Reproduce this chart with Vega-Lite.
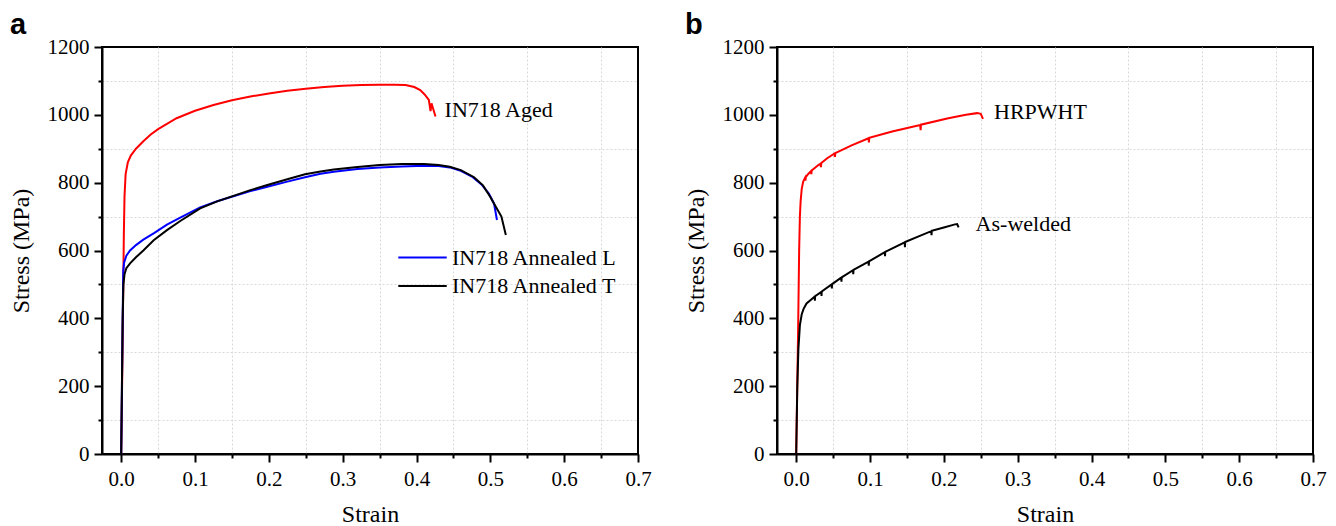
{
  "$schema": "https://vega.github.io/schema/vega-lite/v6.json",
  "padding": {"left": 8, "top": 10, "right": 5, "bottom": 0},
  "background": "white",
  "config": {
    "view": {"stroke": "black", "strokeWidth": 2},
    "axis": {"labelFont": "Liberation Serif", "titleFont": "Liberation Serif"},
    "axisX": {"labelFont": "Liberation Serif", "titleFont": "Liberation Serif"},
    "axisY": {"labelFont": "Liberation Serif", "titleFont": "Liberation Serif"},
    "title": {"font": "Liberation Sans", "fontSize": 29, "fontWeight": "bold", "color": "black", "anchor": "start", "baseline": "alphabetic", "frame": "group"}
  },
  "datasets": {
    "panelA": [
      {"series": "IN718 Aged", "strain": 0, "stress": 0},
      {"series": "IN718 Aged", "strain": 0.0015, "stress": 250},
      {"series": "IN718 Aged", "strain": 0.0028, "stress": 500},
      {"series": "IN718 Aged", "strain": 0.0036, "stress": 650},
      {"series": "IN718 Aged", "strain": 0.0045, "stress": 760},
      {"series": "IN718 Aged", "strain": 0.006, "stress": 825},
      {"series": "IN718 Aged", "strain": 0.009, "stress": 860},
      {"series": "IN718 Aged", "strain": 0.013, "stress": 880},
      {"series": "IN718 Aged", "strain": 0.02, "stress": 900},
      {"series": "IN718 Aged", "strain": 0.03, "stress": 922},
      {"series": "IN718 Aged", "strain": 0.04, "stress": 942},
      {"series": "IN718 Aged", "strain": 0.05, "stress": 958},
      {"series": "IN718 Aged", "strain": 0.075, "stress": 990},
      {"series": "IN718 Aged", "strain": 0.1, "stress": 1012},
      {"series": "IN718 Aged", "strain": 0.125, "stress": 1029},
      {"series": "IN718 Aged", "strain": 0.15, "stress": 1043},
      {"series": "IN718 Aged", "strain": 0.175, "stress": 1054},
      {"series": "IN718 Aged", "strain": 0.2, "stress": 1063},
      {"series": "IN718 Aged", "strain": 0.225, "stress": 1071},
      {"series": "IN718 Aged", "strain": 0.25, "stress": 1077},
      {"series": "IN718 Aged", "strain": 0.275, "stress": 1082},
      {"series": "IN718 Aged", "strain": 0.3, "stress": 1086},
      {"series": "IN718 Aged", "strain": 0.325, "stress": 1088},
      {"series": "IN718 Aged", "strain": 0.35, "stress": 1089},
      {"series": "IN718 Aged", "strain": 0.37, "stress": 1089},
      {"series": "IN718 Aged", "strain": 0.385, "stress": 1088},
      {"series": "IN718 Aged", "strain": 0.397, "stress": 1082},
      {"series": "IN718 Aged", "strain": 0.405, "stress": 1073},
      {"series": "IN718 Aged", "strain": 0.411, "stress": 1060},
      {"series": "IN718 Aged", "strain": 0.4167, "stress": 1044},
      {"series": "IN718 Aged", "strain": 0.419, "stress": 1011},
      {"series": "IN718 Aged", "strain": 0.4203, "stress": 1034},
      {"series": "IN718 Aged", "strain": 0.4257, "stress": 995},
      {"series": "IN718 Annealed L", "strain": 0, "stress": 0},
      {"series": "IN718 Annealed L", "strain": 0.001, "stress": 200},
      {"series": "IN718 Annealed L", "strain": 0.002, "stress": 400},
      {"series": "IN718 Annealed L", "strain": 0.0028, "stress": 540},
      {"series": "IN718 Annealed L", "strain": 0.004, "stress": 565},
      {"series": "IN718 Annealed L", "strain": 0.007, "stress": 585},
      {"series": "IN718 Annealed L", "strain": 0.012, "stress": 600},
      {"series": "IN718 Annealed L", "strain": 0.02, "stress": 616},
      {"series": "IN718 Annealed L", "strain": 0.03, "stress": 632},
      {"series": "IN718 Annealed L", "strain": 0.045, "stress": 652},
      {"series": "IN718 Annealed L", "strain": 0.062, "stress": 676},
      {"series": "IN718 Annealed L", "strain": 0.08, "stress": 697},
      {"series": "IN718 Annealed L", "strain": 0.107, "stress": 727},
      {"series": "IN718 Annealed L", "strain": 0.13, "stress": 745},
      {"series": "IN718 Annealed L", "strain": 0.152, "stress": 760},
      {"series": "IN718 Annealed L", "strain": 0.175, "stress": 775},
      {"series": "IN718 Annealed L", "strain": 0.198, "stress": 788},
      {"series": "IN718 Annealed L", "strain": 0.225, "stress": 803},
      {"series": "IN718 Annealed L", "strain": 0.249, "stress": 816},
      {"series": "IN718 Annealed L", "strain": 0.27, "stress": 826},
      {"series": "IN718 Annealed L", "strain": 0.288, "stress": 832},
      {"series": "IN718 Annealed L", "strain": 0.32, "stress": 840},
      {"series": "IN718 Annealed L", "strain": 0.35, "stress": 845},
      {"series": "IN718 Annealed L", "strain": 0.38, "stress": 848},
      {"series": "IN718 Annealed L", "strain": 0.41, "stress": 850},
      {"series": "IN718 Annealed L", "strain": 0.43, "stress": 849},
      {"series": "IN718 Annealed L", "strain": 0.445, "stress": 845},
      {"series": "IN718 Annealed L", "strain": 0.46, "stress": 835},
      {"series": "IN718 Annealed L", "strain": 0.475, "stress": 818},
      {"series": "IN718 Annealed L", "strain": 0.488, "stress": 795},
      {"series": "IN718 Annealed L", "strain": 0.498, "stress": 768},
      {"series": "IN718 Annealed L", "strain": 0.505, "stress": 738},
      {"series": "IN718 Annealed L", "strain": 0.509, "stress": 690},
      {"series": "IN718 Annealed T", "strain": 0, "stress": 0},
      {"series": "IN718 Annealed T", "strain": 0.001, "stress": 200},
      {"series": "IN718 Annealed T", "strain": 0.002, "stress": 400},
      {"series": "IN718 Annealed T", "strain": 0.003, "stress": 500},
      {"series": "IN718 Annealed T", "strain": 0.0045, "stress": 530},
      {"series": "IN718 Annealed T", "strain": 0.007, "stress": 548},
      {"series": "IN718 Annealed T", "strain": 0.012, "stress": 562},
      {"series": "IN718 Annealed T", "strain": 0.02, "stress": 580},
      {"series": "IN718 Annealed T", "strain": 0.03, "stress": 600},
      {"series": "IN718 Annealed T", "strain": 0.044, "stress": 630},
      {"series": "IN718 Annealed T", "strain": 0.062, "stress": 660},
      {"series": "IN718 Annealed T", "strain": 0.08, "stress": 687},
      {"series": "IN718 Annealed T", "strain": 0.107, "stress": 724},
      {"series": "IN718 Annealed T", "strain": 0.13, "stress": 745},
      {"series": "IN718 Annealed T", "strain": 0.152, "stress": 761},
      {"series": "IN718 Annealed T", "strain": 0.175, "stress": 778},
      {"series": "IN718 Annealed T", "strain": 0.198, "stress": 793},
      {"series": "IN718 Annealed T", "strain": 0.225, "stress": 810},
      {"series": "IN718 Annealed T", "strain": 0.249, "stress": 825},
      {"series": "IN718 Annealed T", "strain": 0.27, "stress": 833},
      {"series": "IN718 Annealed T", "strain": 0.288, "stress": 839},
      {"series": "IN718 Annealed T", "strain": 0.32, "stress": 846},
      {"series": "IN718 Annealed T", "strain": 0.35, "stress": 852},
      {"series": "IN718 Annealed T", "strain": 0.38, "stress": 855},
      {"series": "IN718 Annealed T", "strain": 0.41, "stress": 855},
      {"series": "IN718 Annealed T", "strain": 0.43, "stress": 852},
      {"series": "IN718 Annealed T", "strain": 0.445, "stress": 847},
      {"series": "IN718 Annealed T", "strain": 0.46, "stress": 837},
      {"series": "IN718 Annealed T", "strain": 0.478, "stress": 816},
      {"series": "IN718 Annealed T", "strain": 0.49, "stress": 792},
      {"series": "IN718 Annealed T", "strain": 0.5, "stress": 758},
      {"series": "IN718 Annealed T", "strain": 0.508, "stress": 727},
      {"series": "IN718 Annealed T", "strain": 0.515, "stress": 700},
      {"series": "IN718 Annealed T", "strain": 0.521, "stress": 646}
    ],
    "panelB": [
      {"series": "HRPWHT", "strain": 0, "stress": 0},
      {"series": "HRPWHT", "strain": 0.0025, "stress": 350},
      {"series": "HRPWHT", "strain": 0.004, "stress": 600},
      {"series": "HRPWHT", "strain": 0.005, "stress": 700},
      {"series": "HRPWHT", "strain": 0.006, "stress": 745},
      {"series": "HRPWHT", "strain": 0.0075, "stress": 782},
      {"series": "HRPWHT", "strain": 0.0095, "stress": 803},
      {"series": "HRPWHT", "strain": 0.012, "stress": 814},
      {"series": "HRPWHT", "strain": 0.0125, "stress": 806},
      {"series": "HRPWHT", "strain": 0.013, "stress": 816},
      {"series": "HRPWHT", "strain": 0.016, "stress": 825},
      {"series": "HRPWHT", "strain": 0.02, "stress": 834},
      {"series": "HRPWHT", "strain": 0.0205, "stress": 825},
      {"series": "HRPWHT", "strain": 0.021, "stress": 836},
      {"series": "HRPWHT", "strain": 0.03, "stress": 852},
      {"series": "HRPWHT", "strain": 0.033, "stress": 856},
      {"series": "HRPWHT", "strain": 0.0335, "stress": 846},
      {"series": "HRPWHT", "strain": 0.034, "stress": 858},
      {"series": "HRPWHT", "strain": 0.042, "stress": 872},
      {"series": "HRPWHT", "strain": 0.052, "stress": 886},
      {"series": "HRPWHT", "strain": 0.0525, "stress": 876},
      {"series": "HRPWHT", "strain": 0.053, "stress": 887},
      {"series": "HRPWHT", "strain": 0.075, "stress": 910},
      {"series": "HRPWHT", "strain": 0.098, "stress": 931},
      {"series": "HRPWHT", "strain": 0.0985, "stress": 919},
      {"series": "HRPWHT", "strain": 0.099, "stress": 932},
      {"series": "HRPWHT", "strain": 0.13, "stress": 951},
      {"series": "HRPWHT", "strain": 0.168, "stress": 970},
      {"series": "HRPWHT", "strain": 0.1685, "stress": 955},
      {"series": "HRPWHT", "strain": 0.169, "stress": 971},
      {"series": "HRPWHT", "strain": 0.206, "stress": 990},
      {"series": "HRPWHT", "strain": 0.23, "stress": 1000},
      {"series": "HRPWHT", "strain": 0.245, "stress": 1005},
      {"series": "HRPWHT", "strain": 0.25, "stress": 1003},
      {"series": "HRPWHT", "strain": 0.253, "stress": 988},
      {"series": "As-welded", "strain": 0, "stress": 0},
      {"series": "As-welded", "strain": 0.0015, "stress": 200},
      {"series": "As-welded", "strain": 0.003, "stress": 310},
      {"series": "As-welded", "strain": 0.005, "stress": 380},
      {"series": "As-welded", "strain": 0.0075, "stress": 412},
      {"series": "As-welded", "strain": 0.01, "stress": 428},
      {"series": "As-welded", "strain": 0.014, "stress": 444},
      {"series": "As-welded", "strain": 0.02, "stress": 455},
      {"series": "As-welded", "strain": 0.025, "stress": 464},
      {"series": "As-welded", "strain": 0.0253, "stress": 452},
      {"series": "As-welded", "strain": 0.0256, "stress": 465},
      {"series": "As-welded", "strain": 0.034, "stress": 478},
      {"series": "As-welded", "strain": 0.0343, "stress": 466},
      {"series": "As-welded", "strain": 0.0346, "stress": 479},
      {"series": "As-welded", "strain": 0.048, "stress": 500},
      {"series": "As-welded", "strain": 0.0483, "stress": 488},
      {"series": "As-welded", "strain": 0.0486, "stress": 501},
      {"series": "As-welded", "strain": 0.061, "stress": 520},
      {"series": "As-welded", "strain": 0.0613, "stress": 508},
      {"series": "As-welded", "strain": 0.0616, "stress": 521},
      {"series": "As-welded", "strain": 0.077, "stress": 542},
      {"series": "As-welded", "strain": 0.0773, "stress": 530},
      {"series": "As-welded", "strain": 0.0776, "stress": 543},
      {"series": "As-welded", "strain": 0.098, "stress": 567},
      {"series": "As-welded", "strain": 0.0983, "stress": 555},
      {"series": "As-welded", "strain": 0.0986, "stress": 568},
      {"series": "As-welded", "strain": 0.12, "stress": 595},
      {"series": "As-welded", "strain": 0.1203, "stress": 583},
      {"series": "As-welded", "strain": 0.1206, "stress": 596},
      {"series": "As-welded", "strain": 0.147, "stress": 624},
      {"series": "As-welded", "strain": 0.1473, "stress": 610},
      {"series": "As-welded", "strain": 0.1476, "stress": 625},
      {"series": "As-welded", "strain": 0.165, "stress": 641},
      {"series": "As-welded", "strain": 0.183, "stress": 657},
      {"series": "As-welded", "strain": 0.1833, "stress": 645},
      {"series": "As-welded", "strain": 0.1836, "stress": 658},
      {"series": "As-welded", "strain": 0.2, "stress": 668},
      {"series": "As-welded", "strain": 0.215, "stress": 677},
      {"series": "As-welded", "strain": 0.218, "stress": 678},
      {"series": "As-welded", "strain": 0.22, "stress": 668}
    ]
  },
  "spacing": 30,
  "resolve": {"scale": {"color": "independent"}, "legend": {"color": "independent"}},
  "hconcat": [
    {
      "width": 536,
      "height": 407,
      "title": {"text": "a", "dx": -92, "offset": -4},
      "encoding": {
        "x": {"field": "strain", "type": "quantitative", "title": "Strain",
          "scale": {"domain": [-0.026, 0.7], "nice": false, "zero": false},
          "axis": {
            "values": [0, 0.05, 0.1, 0.15, 0.2, 0.25, 0.3, 0.35, 0.4, 0.45, 0.5, 0.55, 0.6, 0.65, 0.7],
            "labelExpr": "round(datum.value*100) % 10 == 5 ? '' : format(datum.value, '.1f')",
            "domainColor": "black", "domainWidth": 2, "tickColor": "black", "tickWidth": 2,
            "tickSize": {"condition": {"test": "round(datum.value*100) % 10 == 5", "value": 4}, "value": 8},
            "grid": true, "gridColor": "#d9d9d9", "gridDash": [2, 2], "gridWidth": 1,
            "gridOpacity": {"condition": {"test": "round(datum.value*100) % 10 == 5", "value": 1}, "value": 0},
            "labelFont": "Liberation Serif", "labelFontSize": 21, "labelColor": "black",
            "labelOverlap": false, "labelFlush": false, "labelBound": false,
            "titleFont": "Liberation Serif", "titleFontSize": 24, "titleFontWeight": "normal", "titleColor": "black",
            "labelPadding": 6, "titlePadding": 13,
            "encode": {"labels": {"update": {"font": {"value": "Liberation Serif"}}}, "title": {"update": {"font": {"value": "Liberation Serif"}}}}
          }},
        "y": {"field": "stress", "type": "quantitative", "title": "Stress (MPa)",
          "scale": {"domain": [0, 1200], "nice": false},
          "axis": {
            "values": [0, 100, 200, 300, 400, 500, 600, 700, 800, 900, 1000, 1100, 1200],
            "labelExpr": "datum.value % 200 == 100 ? '' : format(datum.value, 'd')",
            "domainColor": "black", "domainWidth": 2, "tickColor": "black", "tickWidth": 2,
            "tickSize": {"condition": {"test": "datum.value % 200 == 100", "value": 4}, "value": 8},
            "grid": true, "gridColor": "#d9d9d9", "gridDash": [2, 2], "gridWidth": 1,
            "gridOpacity": {"condition": {"test": "datum.value % 200 == 100", "value": 1}, "value": 0},
            "labelFont": "Liberation Serif", "labelFontSize": 21, "labelColor": "black",
            "labelOverlap": false, "labelFlush": false, "labelBound": false,
            "titleFont": "Liberation Serif", "titleFontSize": 24, "titleFontWeight": "normal", "titleColor": "black",
            "labelPadding": 5, "titlePadding": 14,
            "encode": {"labels": {"update": {"font": {"value": "Liberation Serif"}}}, "title": {"update": {"font": {"value": "Liberation Serif"}}}}
          }}
      },
      "layer": [
        {
          "data": {"name": "panelA"},
          "mark": {"type": "line", "strokeWidth": 2},
          "encoding": {
            "color": {"field": "series", "type": "nominal",
              "scale": {"domain": ["IN718 Aged", "IN718 Annealed L", "IN718 Annealed T"], "range": ["#ff0000", "#0000ff", "#000000"]},
              "legend": {"orient": "none", "legendX": 307, "legendY": 197, "title": null,
                "values": ["IN718 Annealed L", "IN718 Annealed T"],
                "symbolType": "M-2,0H2", "symbolSize": 586, "symbolStrokeWidth": 2,
                "labelFontSize": 22, "labelFont": "Liberation Serif", "labelColor": "black", "labelLimit": 400,
                "labelOffset": 16, "rowPadding": 3.5, "padding": 0}},
            "order": {"value": null}
          }
        },
        {
          "data": {"values": [{"label": "IN718 Aged", "strain": 0.438, "stress": 1014}]},
          "mark": {"type": "text", "align": "left", "baseline": "middle", "fontSize": 22, "font": "Liberation Serif", "color": "black"},
          "encoding": {"text": {"field": "label"}}
        }
      ]
    },
    {
      "width": 536,
      "height": 407,
      "title": {"text": "b", "dx": -92, "offset": -4},
      "encoding": {
        "x": {"field": "strain", "type": "quantitative", "title": "Strain",
          "scale": {"domain": [-0.026, 0.7], "nice": false, "zero": false},
          "axis": {
            "values": [0, 0.05, 0.1, 0.15, 0.2, 0.25, 0.3, 0.35, 0.4, 0.45, 0.5, 0.55, 0.6, 0.65, 0.7],
            "labelExpr": "round(datum.value*100) % 10 == 5 ? '' : format(datum.value, '.1f')",
            "domainColor": "black", "domainWidth": 2, "tickColor": "black", "tickWidth": 2,
            "tickSize": {"condition": {"test": "round(datum.value*100) % 10 == 5", "value": 4}, "value": 8},
            "grid": true, "gridColor": "#d9d9d9", "gridDash": [2, 2], "gridWidth": 1,
            "gridOpacity": {"condition": {"test": "round(datum.value*100) % 10 == 5", "value": 1}, "value": 0},
            "labelFont": "Liberation Serif", "labelFontSize": 21, "labelColor": "black",
            "labelOverlap": false, "labelFlush": false, "labelBound": false,
            "titleFont": "Liberation Serif", "titleFontSize": 24, "titleFontWeight": "normal", "titleColor": "black",
            "labelPadding": 6, "titlePadding": 13,
            "encode": {"labels": {"update": {"font": {"value": "Liberation Serif"}}}, "title": {"update": {"font": {"value": "Liberation Serif"}}}}
          }},
        "y": {"field": "stress", "type": "quantitative", "title": "Stress (MPa)",
          "scale": {"domain": [0, 1200], "nice": false},
          "axis": {
            "values": [0, 100, 200, 300, 400, 500, 600, 700, 800, 900, 1000, 1100, 1200],
            "labelExpr": "datum.value % 200 == 100 ? '' : format(datum.value, 'd')",
            "domainColor": "black", "domainWidth": 2, "tickColor": "black", "tickWidth": 2,
            "tickSize": {"condition": {"test": "datum.value % 200 == 100", "value": 4}, "value": 8},
            "grid": true, "gridColor": "#d9d9d9", "gridDash": [2, 2], "gridWidth": 1,
            "gridOpacity": {"condition": {"test": "datum.value % 200 == 100", "value": 1}, "value": 0},
            "labelFont": "Liberation Serif", "labelFontSize": 21, "labelColor": "black",
            "labelOverlap": false, "labelFlush": false, "labelBound": false,
            "titleFont": "Liberation Serif", "titleFontSize": 24, "titleFontWeight": "normal", "titleColor": "black",
            "labelPadding": 5, "titlePadding": 14,
            "encode": {"labels": {"update": {"font": {"value": "Liberation Serif"}}}, "title": {"update": {"font": {"value": "Liberation Serif"}}}}
          }}
      },
      "layer": [
        {
          "data": {"name": "panelB"},
          "mark": {"type": "line", "strokeWidth": 2},
          "encoding": {
            "color": {"field": "series", "type": "nominal",
              "scale": {"domain": ["HRPWHT", "As-welded"], "range": ["#ff0000", "#000000"]},
              "legend": null},
            "order": {"value": null}
          }
        },
        {
          "data": {"values": [
            {"label": "HRPWHT", "strain": 0.268, "stress": 1009},
            {"label": "As-welded", "strain": 0.243, "stress": 678}
          ]},
          "mark": {"type": "text", "align": "left", "baseline": "middle", "fontSize": 22, "font": "Liberation Serif", "color": "black"},
          "encoding": {"text": {"field": "label"}}
        }
      ]
    }
  ]
}
